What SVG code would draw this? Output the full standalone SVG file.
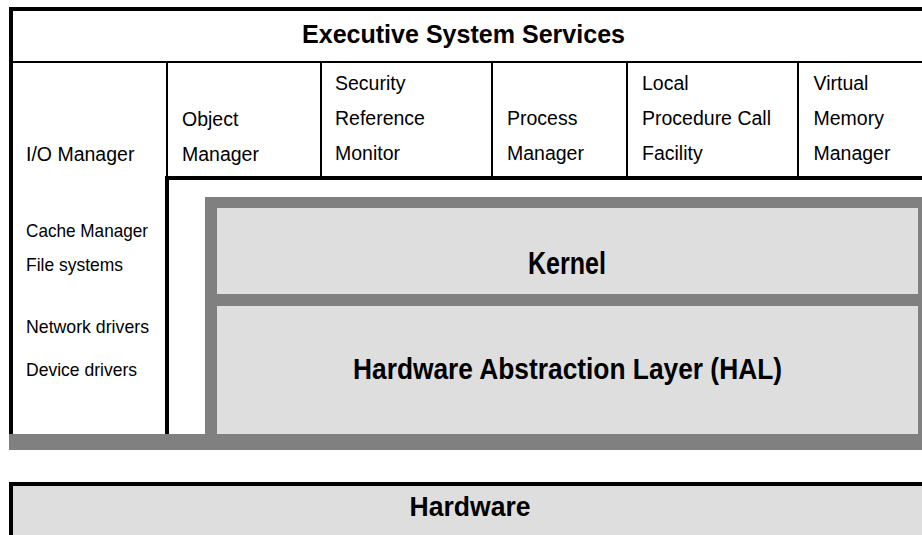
<svg xmlns="http://www.w3.org/2000/svg" width="922" height="535" viewBox="0 0 922 535">
<style>
.t{font-family:"Liberation Sans",Arial,sans-serif;font-size:19.5px;fill:#000}
.s{font-family:"Liberation Sans",Arial,sans-serif;font-size:18.5px;fill:#000}
.b{font-family:"Liberation Sans",Arial,sans-serif;font-weight:bold;fill:#000;text-anchor:middle}
.k{fill:#000}
.g{fill:#808080}
.l{fill:#dedede}
</style>
<rect width="922" height="535" fill="#fff"/>
<g id="frame">
<rect class="k" x="9" y="7" width="913" height="4"/>
<rect class="k" x="9" y="7" width="4" height="427"/>
<rect class="k" x="9" y="61" width="913" height="2"/>
<rect class="k" x="166" y="63" width="2" height="114"/>
<rect class="k" x="320" y="63" width="2" height="114"/>
<rect class="k" x="491" y="63" width="2" height="114"/>
<rect class="k" x="626" y="63" width="2" height="114"/>
<rect class="k" x="797" y="63" width="2" height="114"/>
<rect class="k" x="165" y="176" width="757" height="4"/>
<rect class="k" x="165" y="176" width="4" height="258"/>
<rect class="g" x="205" y="197" width="717" height="253"/>
<rect class="g" x="9" y="434" width="913" height="16"/>
</g>
<g id="connectors"/>
<g id="executive">
<text class="b" x="463.5" y="43" font-size="25.5" textLength="323" lengthAdjust="spacingAndGlyphs">Executive System Services</text>
</g>
<g id="io-manager">
<text class="t" x="26" y="160.5">I/O Manager</text>
<text class="s" x="26" y="237" textLength="122" lengthAdjust="spacingAndGlyphs">Cache Manager</text>
<text class="s" x="26" y="271" textLength="97" lengthAdjust="spacingAndGlyphs">File systems</text>
<text class="s" x="26" y="333" textLength="123" lengthAdjust="spacingAndGlyphs">Network drivers</text>
<text class="s" x="26" y="376" textLength="111" lengthAdjust="spacingAndGlyphs">Device drivers</text>
</g>
<g id="object-manager">
<text class="t" x="182" y="125.5">Object</text>
<text class="t" x="182" y="160.5">Manager</text>
</g>
<g id="security-reference-monitor">
<text class="t" x="335" y="90">Security</text>
<text class="t" x="335" y="125">Reference</text>
<text class="t" x="335" y="160">Monitor</text>
</g>
<g id="process-manager">
<text class="t" x="507" y="125">Process</text>
<text class="t" x="507" y="160">Manager</text>
</g>
<g id="lpc-facility">
<text class="t" x="642" y="90">Local</text>
<text class="t" x="642" y="125">Procedure Call</text>
<text class="t" x="642" y="160">Facility</text>
</g>
<g id="virtual-memory-manager">
<text class="t" x="813.5" y="90">Virtual</text>
<text class="t" x="813.5" y="125">Memory</text>
<text class="t" x="813.5" y="160">Manager</text>
</g>
<g id="kernel">
<rect class="l" x="217" y="208" width="701" height="86"/>
<text class="b" x="567" y="274" font-size="31" textLength="78" lengthAdjust="spacingAndGlyphs">Kernel</text>
</g>
<g id="hal">
<rect class="l" x="217" y="306" width="701" height="128"/>
<text class="b" x="567.5" y="379" font-size="29.5" textLength="429" lengthAdjust="spacingAndGlyphs">Hardware Abstraction Layer (HAL)</text>
</g>
<g id="hardware">
<rect class="l" x="13" y="486" width="909" height="49"/>
<rect class="k" x="9" y="482" width="913" height="4"/>
<rect class="k" x="9" y="482" width="4" height="53"/>
<text class="b" x="470" y="516" font-size="27" textLength="121" lengthAdjust="spacingAndGlyphs">Hardware</text>
</g>
</svg>
